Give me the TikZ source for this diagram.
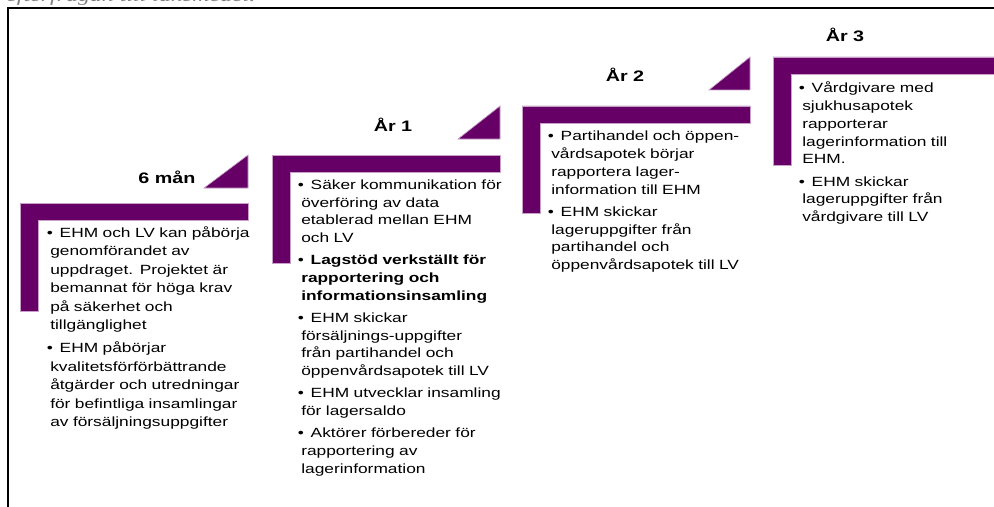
\documentclass[tikz,border=0pt]{standalone}
\usepackage{fontspec}
\setmainfont[FakeStretch=1.3]{Liberation Sans}
\newfontfamily\capfont[FakeStretch=1.3]{Liberation Serif}
\definecolor{stepviolet}{RGB}{102,0,102}
\definecolor{edgeviolet}{RGB}{200,160,200}
\definecolor{captiongray}{RGB}{128,128,128}
\newcommand\bul[1]{\noindent\hangindent=7.1pt\hangafter=1\makebox[7.1pt][l]{\hspace{-2.5pt}\textbullet}#1\par\vspace{3.3pt}}
\tikzset{
  stepshape/.style={fill=stepviolet, draw=edgeviolet, line width=0.5pt},
  steptitle/.style={anchor=base, inner sep=0pt, font=\fontsize{11.4pt}{13pt}\selectfont\bfseries},
  steptext/.style={anchor=base west, inner sep=0pt, text width=170pt, align=left,
                   font=\fontsize{10pt}{13.3pt}\selectfont},
}
\begin{document}
\begin{tikzpicture}[x=0.75pt, y=-0.75pt]
\useasboundingbox (0,0) rectangle (994,506);
\clip (0,0) rectangle (994,506);
\fill[white] (0,0) rectangle (994,506);

% caption remnant and frame
\node[anchor=base west, inner sep=0pt, text=captiongray, font=\capfont\itshape\fontsize{13.8pt}{15pt}\selectfont] (cap) at (6,2) {efterfrågan till läkemedel.};
\draw[line width=1.3pt] (7.7,520) -- (7.7,8.3) -- (1000,8.3);

% step 1
\fill[stepshape] (20,203) -- (248,203) -- (248,220) -- (38,220) -- (38,311) -- (20,311) -- cycle;
\fill[stepshape] (204,188) -- (248,155) -- (248,188) -- cycle;
\node[steptitle] (t1) at (167,183) {6 mån};
\node[steptext, font=\fontsize{10pt}{13.9pt}\selectfont] (b1) at (50,237) {%
\bul{EHM och LV kan påbörja\\genomförandet av\\uppdraget. Projektet är\\bemannat för höga krav\\på säkerhet och\\tillgänglighet}
\bul{EHM påbörjar\\kvalitetsförförbättrande\\åtgärder och utredningar\\för befintliga insamlingar\\av försäljningsuppgifter}};

% step 2
\fill[stepshape] (272,155) -- (500,155) -- (500,172) -- (290,172) -- (290,263) -- (272,263) -- cycle;
\fill[stepshape] (458,139) -- (500,106) -- (500,139) -- cycle;
\node[steptitle] (t2) at (393,132) {År 1};
\node[steptext] (b2) at (301,189.5) {%
\bul{Säker kommunikation för\\överföring av data\\etablerad mellan EHM\\och LV}
\bul{{\bfseries Lagstöd verkställt för\\rapportering och\\informationsinsamling}}
\bul{EHM skickar\\försäljnings-uppgifter\\från partihandel och\\öppenvårdsapotek till LV}
\bul{EHM utvecklar insamling\\för lagersaldo}
\bul{Aktörer förbereder för\\rapportering av\\lagerinformation}};

% step 3
\fill[stepshape] (522,106) -- (750,106) -- (750,123) -- (540,123) -- (540,213) -- (522,213) -- cycle;
\fill[stepshape] (709,90) -- (750,57) -- (750,90) -- cycle;
\node[steptitle] (t3) at (625,82) {År 2};
\node[steptext] (b3) at (551,141) {%
\bul{Partihandel och öppen-\\vårdsapotek börjar\\rapportera lager-\\information till EHM}
\bul{EHM skickar\\lageruppgifter från\\partihandel och\\öppenvårdsapotek till LV}};

% step 4
\fill[stepshape] (773,57) -- (1000,57) -- (1000,74) -- (791,74) -- (791,165) -- (773,165) -- cycle;
\node[steptitle] (t4) at (845,42) {År 3};
\node[steptext] (b4) at (802,93) {%
\bul{Vårdgivare med\\sjukhusapotek\\rapporterar\\lagerinformation till\\EHM.}
\bul{EHM skickar\\lageruppgifter från\\vårdgivare till LV}};
\end{tikzpicture}
\end{document}
